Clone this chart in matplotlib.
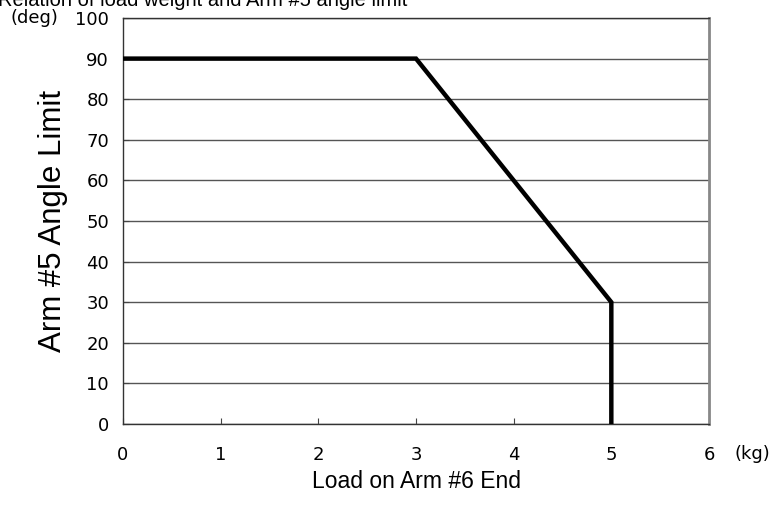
import matplotlib.pyplot as plt

# dane z wykresu
load_kg = [0, 3, 5, 5]
angle_limit = [90, 90, 30, 0]
x_ticks = [0, 1, 2, 3, 4, 5, 6]
y_ticks = [0, 10, 20, 30, 40, 50, 60, 70, 80, 90, 100]

plt.rcParams['font.family'] = ['Liberation Sans', 'DejaVu Sans']

fig = plt.figure(figsize=(7.76, 5.07), dpi=100)
ax = fig.add_axes([123 / 776, 1 - 424 / 507, 586 / 776, 406 / 507])

ax.plot(load_kg, angle_limit, color='black', linewidth=3.2, solid_joinstyle='miter', zorder=3)

ax.set_xlim(0, 6)
ax.set_ylim(0, 100)
ax.set_xticks(x_ticks)
ax.set_yticks(y_ticks)
ax.tick_params(axis='both', direction='in', length=4, width=0.8, color='#444444',
               labelsize=13)
ax.tick_params(axis='x', pad=16)
ax.tick_params(axis='y', pad=10)
for lbl in ax.get_xticklabels() + ax.get_yticklabels():
    lbl.set_family('DejaVu Sans')
ax.yaxis.grid(True, color='#555555', linewidth=1.0)
ax.set_axisbelow(True)
for s in ax.spines.values():
    s.set_color('#333333')
    s.set_linewidth(1.0)
ax.spines['right'].set_color('#888888')
ax.spines['right'].set_linewidth(2.0)

ax.set_xlabel('Load on Arm #6 End', fontsize=16.5, labelpad=4)
ax.set_ylabel('Arm #5 Angle Limit', fontsize=22.5, labelpad=5)

fig.text(-0.003, 1 - 6 / 507, 'Relation of load weight and Arm #5 angle limit',
         fontsize=14.5, ha='left', va='baseline')
fig.text(10 / 776, 1 - 18 / 507, '(deg)', fontsize=13, family='DejaVu Sans',
         ha='left', va='center')
fig.text(735 / 776, 1 - 454 / 507, '(kg)', fontsize=13, family='DejaVu Sans',
         ha='left', va='center')

plt.savefig('out.png', dpi=100)
plt.close()
